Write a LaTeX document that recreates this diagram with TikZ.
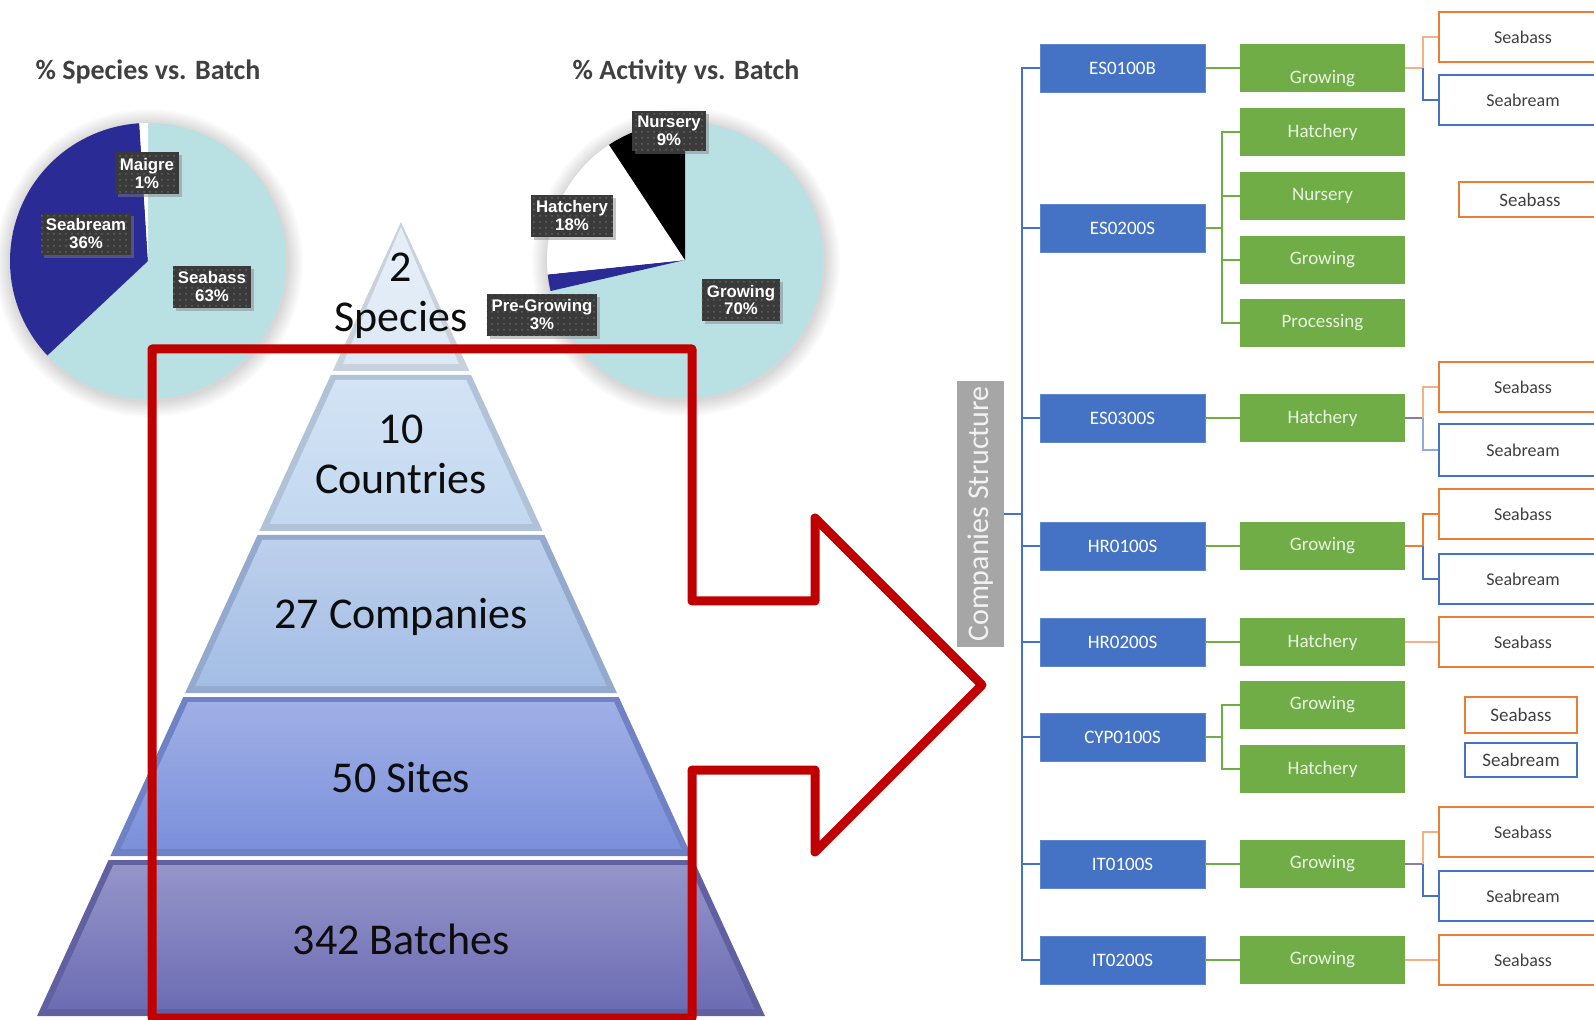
\documentclass[tikz,border=0pt]{standalone}
\usepackage{fontspec}
\setmainfont{Carlito}
\newfontfamily\labelfont{Liberation Sans}
\usetikzlibrary{calc,shadows,patterns}

\definecolor{bassfill}{HTML}{B9E0E3}
\definecolor{breamfill}{HTML}{2B2B96}
\definecolor{labelgray}{HTML}{3A3A3A}
\definecolor{titlegray}{HTML}{404040}
\definecolor{tierA}{HTML}{DDE9F6}
\definecolor{tierB}{HTML}{C2D8F0}
\definecolor{tierC}{HTML}{A3BDE5}
\definecolor{tierD}{HTML}{7B90DB}
\definecolor{tierE}{HTML}{6C6CB4}
\definecolor{redline}{HTML}{C00000}
\definecolor{compblue}{HTML}{4472C4}
\definecolor{actgreen}{HTML}{70AD47}
\definecolor{acttext}{HTML}{EAF3E3}
\definecolor{bassorange}{HTML}{ED7D31}
\definecolor{lightorange}{HTML}{F4B183}
\definecolor{breamblue}{HTML}{4472C4}
\definecolor{lightblue}{HTML}{8FAADC}
\definecolor{stubgray}{HTML}{8E7CA0}
\definecolor{fishtext}{HTML}{404040}
\definecolor{csgray}{HTML}{A6A6A6}

\begin{document}
\begin{tikzpicture}[x=0.5pt,y=-0.5pt,
  pietitle/.style={font=\bfseries\fontsize{14}{16}\selectfont, text=titlegray},
  pielabel/.style={fill=labelgray, text=white, align=center, inner xsep=2.5pt, inner ysep=2.8pt,
    font=\labelfont\bfseries\fontsize{8.4}{9}\selectfont,
    drop shadow={shadow xshift=1.5pt, shadow yshift=-1.5pt, opacity=0.45},
    postaction={pattern=dots, pattern color=labelgray!80!white}},
  tiertext/.style={font=\fontsize{22}{25}\selectfont, align=center, text=black!95},
  company/.style={fill=compblue, draw=compblue!85!white, text=white, minimum width=82.5pt,
    minimum height=24pt, inner sep=0pt, font=\fontsize{9.5}{11}\selectfont},
  activity/.style={fill=actgreen, text=acttext, minimum width=82.5pt, minimum height=24pt,
    inner sep=0pt, font=\fontsize{9.5}{11}\selectfont},
  bass/.style={draw=bassorange, line width=1pt, fill=white, text=fishtext, minimum width=84pt,
    minimum height=25pt, inner sep=0pt, font=\fontsize{9}{11}\selectfont},
  bream/.style={bass, draw=breamblue},
  busline/.style={draw=compblue, line width=1.2pt},
  actline/.style={draw=actgreen, line width=1pt},
  fishline/.style={line width=1pt},
]
\useasboundingbox (0,0) rectangle (1594,1020);
\fill[white] (0,0) rectangle (1594,1020);

% pies
\coordinate (pa) at (148,261);
\coordinate (pb) at (685,260);
\foreach \r in {1,...,10}{
  \fill[black, opacity=0.014] ($(pa)+(1,2)$) circle ({69pt+\r*0.8pt});
  \fill[black, opacity=0.014] ($(pb)+(1,2)$) circle ({69pt+\r*0.8pt});
}
\fill[bassfill] (pa) -- ++(90:69pt) arc (90:-136.8:69pt) -- cycle;
\fill[breamfill] (pa) -- ++(-136.8:69pt) arc (-136.8:-266.4:69pt) -- cycle;
\fill[white] (pa) -- ++(-266.4:69pt) arc (-266.4:-270:69pt) -- cycle;
\fill[bassfill] (pb) -- ++(90:69pt) arc (90:-167:69pt) -- cycle;
\fill[breamfill] (pb) -- ++(-167:69pt) arc (-167:-174:69pt) -- cycle;
\fill[white] (pb) -- ++(-174:69pt) arc (-174:-236.6:69pt) -- cycle;
\fill[black] (pb) -- ++(-236.6:69pt) arc (-236.6:-270:69pt) -- cycle;

\node[pietitle] (t1) at (148,72) {\% Species vs. Batch};
\node[pietitle] (t2) at (686,72) {\% Activity vs. Batch};

\node[pielabel] (maigre) at (147,173) {Maigre\\1\%};
\node[pielabel] (seabream) at (86,234) {Seabream\\36\%};
\node[pielabel] (seabass) at (212,287) {Seabass\\63\%};
\node[pielabel] (nursery) at (669,131) {Nursery\\9\%};
\node[pielabel] (hatchery) at (572,216) {Hatchery\\18\%};
\node[pielabel] (pregrow) at (542,315) {Pre-Growing\\3\%};
\node[pielabel] (growing) at (741,300) {Growing\\70\%};

% pyramid
\foreach \ya/\yb/\col in {222/371/tierA,375/531/tierB,535/693/tierC,697/856/tierD,860/1016/tierE}{
  \pgfmathsetmacro\wtop{0.4584*(\ya-222)}
  \pgfmathsetmacro\wbot{0.4584*(\yb-222)}
  \pgfmathsetmacro\witop{max(0.4584*(\ya+5-222)-7,0)}
  \pgfmathsetmacro\wibot{0.4584*(\yb-7-222)-7}
  \fill[\col!90!black] ({401-\wtop},\ya) -- ({401+\wtop},\ya) -- ({401+\wbot},\yb) -- ({401-\wbot},\yb) -- cycle;
  \shade[top color=\col!72!white, middle color=\col, bottom color=\col]
    ({401-\witop},{\ya+5}) -- ({401+\witop},{\ya+5}) -- ({401+\wibot},{\yb-7}) -- ({401-\wibot},{\yb-7}) -- cycle;
}
\node[tiertext] (species) at (401,296) {2\\Species};
\node[tiertext] (countries) at (401,454) {10\\Countries};
\node[tiertext] (companies) at (401,617) {27 Companies};
\node[tiertext] (sites) at (401,778) {50 Sites};
\node[tiertext] (batches) at (401,939) {342 Batches};

% red frame with arrow
\draw[redline, line width=4.5pt, line join=round]
  (152,1018) -- (152,349) -- (692,349) -- (692,601) -- (815,601) -- (815,518)
  -- (982,685) -- (815,852) -- (815,770) -- (692,770) -- (692,1018) -- cycle;

% companies structure
\node[fill=csgray, text=white!95!black, rotate=90, minimum width=133pt, minimum height=23.5pt,
  inner sep=0pt, font=\fontsize{15}{17}\selectfont] (cs) at (980.5,514) {Companies\ Structure};

\node[company] (es1) at (1122.5,68) {ES0100B};
\node[company] (es2) at (1122.5,228) {ES0200S};
\node[company] (es3) at (1122.5,418) {ES0300S};
\node[company] (hr1) at (1122.5,546) {HR0100S};
\node[company] (hr2) at (1122.5,642) {HR0200S};
\node[company] (cy1) at (1122.5,737) {CYP0100S};
\node[company] (it1) at (1122.5,864) {IT0100S};
\node[company] (it2) at (1122.5,960) {IT0200S};

\node[activity, text height=17.5pt, text depth=2pt] (a1) at (1322.5,68) {Growing};
\node[activity] (a2) at (1322.5,132) {Hatchery};
\node[activity] (a3) at (1322.5,196) {Nursery};
\node[activity] (a4) at (1322.5,260) {Growing};
\node[activity] (a5) at (1322.5,323) {Processing};
\node[activity] (a6) at (1322.5,418) {Hatchery};
\node[activity] (a7) at (1322.5,546) {Growing};
\node[activity] (a8) at (1322.5,642) {Hatchery};
\node[activity] (a9) at (1322.5,705) {Growing};
\node[activity] (a10) at (1322.5,769) {Hatchery};
\node[activity] (a11) at (1322.5,864) {Growing};
\node[activity] (a12) at (1322.5,960) {Growing};

\node[bass] (s1) at (1523,37) {Seabass};
\node[bream] (s2) at (1523,100) {Seabream};
\node[bass, minimum width=71pt, minimum height=17.5pt, font=\fontsize{9.5}{11}\selectfont] (s3) at (1530,200) {Seabass};
\node[bass] (s4) at (1523,387) {Seabass};
\node[bream, minimum height=26pt] (s5) at (1523,450) {Seabream};
\node[bass] (s6) at (1523,514) {Seabass};
\node[bream] (s7) at (1523,579) {Seabream};
\node[bass] (s8) at (1523,642) {Seabass};
\node[bass, minimum width=56pt, minimum height=18pt, font=\fontsize{9.5}{11}\selectfont] (s9) at (1521,715) {Seabass};
\node[bream, minimum width=56pt, minimum height=17pt, font=\fontsize{9.5}{11}\selectfont] (s10) at (1521,760) {Seabream};
\node[bass] (s11) at (1523,832) {Seabass};
\node[bream] (s12) at (1523,896) {Seabream};
\node[bass] (s13) at (1523,960) {Seabass};

\coordinate (busx) at (1022,0);
\coordinate (jA) at (1222,0);
\coordinate (jB) at (1423,0);

\draw[busline] (es1.west) -- (es1.west -| busx) -- (it2.west -| busx) -- (it2.west);
\foreach \n in {es2,es3,hr1,hr2,cy1,it1}
  \draw[busline] (\n.west) -- (\n.west -| busx);
\draw[busline] (cs.south) -- (cs.south -| busx);

\foreach \c/\a in {es1/a1,es3/a6,hr1/a7,hr2/a8,it1/a11,it2/a12}
  \draw[actline] (\c.east) -- (\a.west);
\draw[actline] (es2.east) -- (es2.east -| jA);
\draw[actline] (a2.west) -- (a2.west -| jA) -- (a5.west -| jA) -- (a5.west);
\foreach \a in {a3,a4}
  \draw[actline] (\a.west) -- (\a.west -| jA);
\draw[actline] (cy1.east) -- (cy1.east -| jA);
\draw[actline] (a9.west) -- (a9.west -| jA) -- (a10.west -| jA) -- (a10.west);

\foreach \a/\sa/\sb/\stub/\up/\dn in {a1/s1/s2/lightorange/lightorange/breamblue,
    a6/s4/s5/stubgray/lightorange/lightblue, a7/s6/s7/bassorange/bassorange/breamblue,
    a11/s11/s12/stubgray/lightorange/breamblue}{
  \draw[fishline, \stub] (\a.east) -- (\a.east -| jB);
  \draw[fishline, \up] (\a.east -| jB) |- (\sa.west);
  \draw[fishline, \dn] (\a.east -| jB) |- (\sb.west);
}
\draw[fishline, lightorange] (a8.east) -- (s8.west);
\draw[fishline, lightorange] (a12.east) -- (s13.west);
\end{tikzpicture}
\end{document}
